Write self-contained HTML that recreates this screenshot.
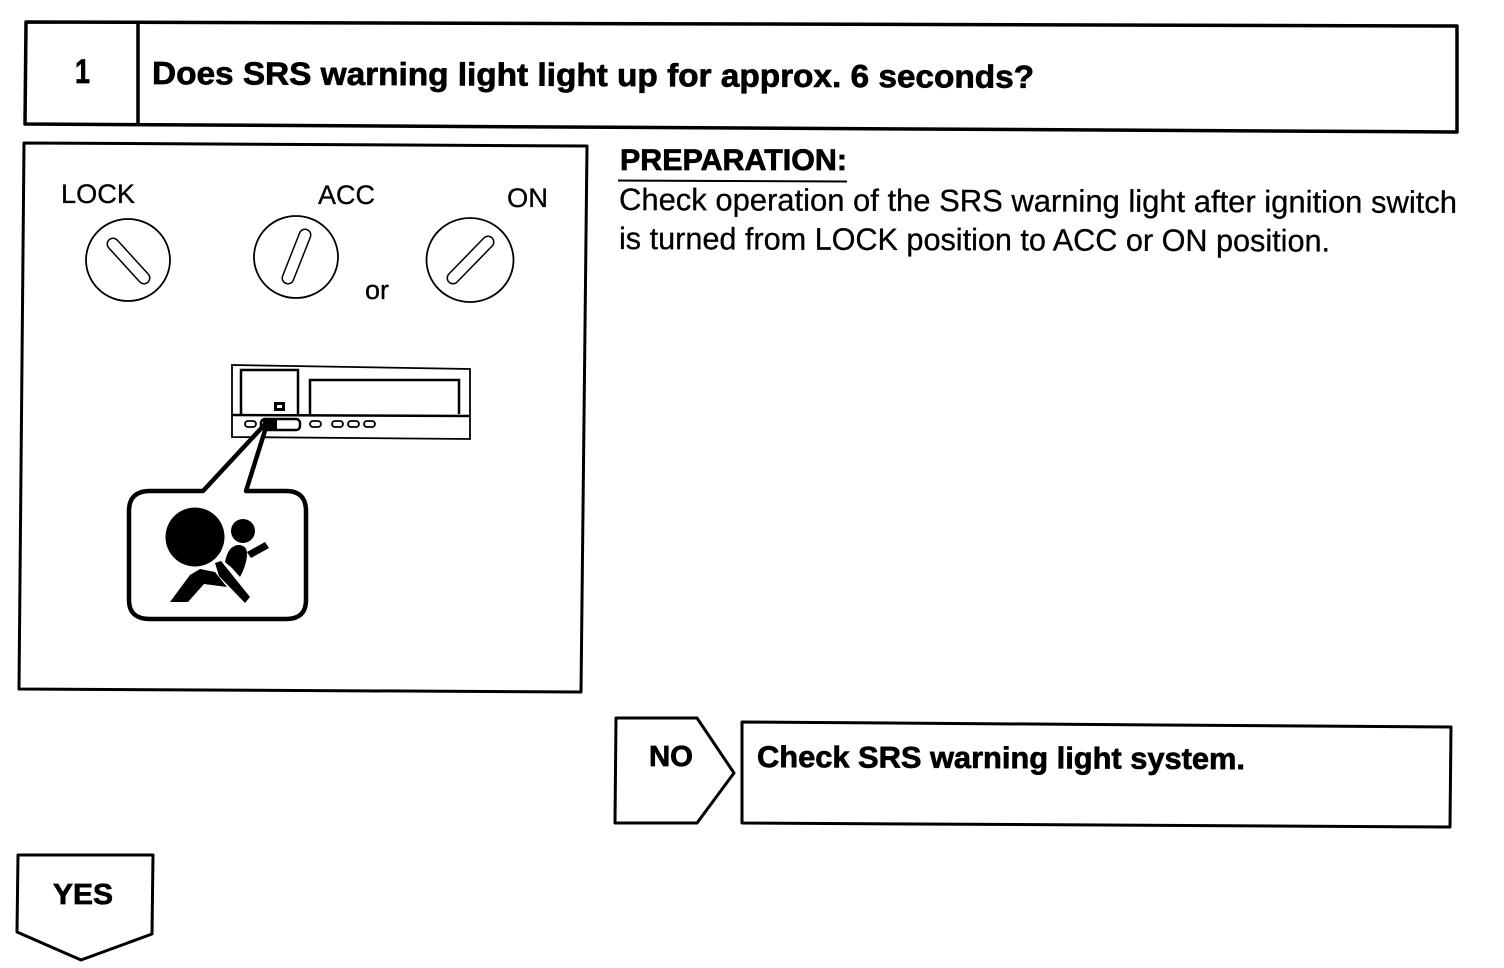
<!DOCTYPE html>
<html>
<head>
<meta charset="utf-8">
<style>
html,body{margin:0;padding:0;background:#fff;width:1504px;height:968px;overflow:hidden}
svg{display:block}
text{font-family:"Liberation Sans",sans-serif;fill:#000}
.b{font-weight:bold;stroke:#000;stroke-width:.7px}
.r{stroke:#000;stroke-width:.3px}
</style>
</head>
<body>
<svg width="1504" height="968" viewBox="0 0 1504 968" xmlns="http://www.w3.org/2000/svg">
<rect width="1504" height="968" fill="#fff"/>
<g fill="none" stroke="#000" stroke-linejoin="round">
  <!-- header -->
  <polygon points="26,22 1457,26 1457,132 25,124" stroke-width="3.5"/>
  <line x1="138" y1="22" x2="138" y2="124" stroke-width="3.5"/>
  <!-- panel -->
  <polygon points="24,143 587,146 581,692 19,689" stroke-width="3"/>
  <!-- knobs -->
  <ellipse cx="128" cy="260" rx="42" ry="41" stroke-width="1.8"/>
  <ellipse cx="296" cy="257" rx="42" ry="41" stroke-width="1.8"/>
  <ellipse cx="470" cy="260" rx="43.500" ry="42" stroke-width="1.8"/>
</g>
<g fill="none" stroke-linecap="round">
  <line x1="113" y1="244" x2="144" y2="278" stroke="#000" stroke-width="13"/>
  <line x1="113" y1="244" x2="144" y2="278" stroke="#fff" stroke-width="10"/>
  <line x1="305" y1="235" x2="288" y2="278" stroke="#000" stroke-width="13"/>
  <line x1="305" y1="235" x2="288" y2="278" stroke="#fff" stroke-width="10"/>
  <line x1="488" y1="242" x2="453" y2="278" stroke="#000" stroke-width="13"/>
  <line x1="488" y1="242" x2="453" y2="278" stroke="#fff" stroke-width="10"/>
</g>
<!-- cluster -->
<g fill="none" stroke="#000">
  <polygon points="232,365 470,369 470,439 232,437" stroke-width="1.800"/>
  <line x1="232" y1="415" x2="470" y2="416" stroke-width="2.500"/>
  <polyline points="241,414 241,370 298,370 298,414" stroke-width="2.500"/>
  <polyline points="310,414 310,380 459,380 459,414" stroke-width="2.500"/>
  <rect x="275.500" y="403.500" width="8" height="6" stroke-width="3"/>
  <rect x="245" y="421" width="11" height="6" rx="3" stroke-width="1.800"/>
  <rect x="261" y="419" width="39" height="11" rx="4" stroke-width="2.500"/>
  <rect x="310" y="421" width="11" height="6" rx="3" stroke-width="1.800"/>
  <rect x="332" y="421" width="11" height="6" rx="3" stroke-width="1.800"/>
  <rect x="348" y="421" width="11" height="6" rx="3" stroke-width="1.800"/>
  <rect x="364" y="421" width="11" height="6" rx="3" stroke-width="1.800"/>
  <!-- callout -->
  <path d="M203,491 L268,421 L246,491 L286,491 Q306,491 306,511 L306,600 Q306,619 286,619 L150,619 Q129,619 129,600 L129,511 Q129,491 150,491 Z" fill="#fff" stroke-width="4.500" stroke-linejoin="round"/>
</g>
<rect x="263" y="420" width="14" height="9" fill="#000"/>
<!-- airbag icon -->
<g fill="#000" stroke="none">
  <circle cx="195" cy="537" r="29.500"/>
  <circle cx="243" cy="531" r="12"/>
  <path d="M225,562 Q228,546 238,545 Q248,545 247,556 Q246,566 240,577 L232,568 Z"/>
  <polygon points="247,552 265,542 269,548 251,558"/>
  <polygon points="215,563 221,561 250,597 245,603 219,576"/>
  <polygon points="170,602 188,602 204,584 227,587 215,572 200,569 190,575"/>
</g>
<!-- NO / YES / result -->
<g fill="none" stroke="#000" stroke-linejoin="round">
  <polygon points="616,718 697,718 734,773 697,823 615,823" stroke-width="3"/>
  <polygon points="742,722 1451,727 1450,827 742,823" stroke-width="3"/>
  <polygon points="18,855 153,855 152,934 81,960 17,932" stroke-width="3"/>
</g>
<!-- text -->
<text class="b" x="75" y="83" font-size="34" textLength="15" lengthAdjust="spacingAndGlyphs">1</text>
<text class="b" x="152" y="84" font-size="32" textLength="882" lengthAdjust="spacingAndGlyphs" transform="rotate(.25 152 84)">Does SRS warning light light up for approx. 6 seconds?</text>
<text class="r" x="61" y="203" font-size="27" textLength="74" lengthAdjust="spacingAndGlyphs">LOCK</text>
<text class="r" x="318" y="204" font-size="27" textLength="57" lengthAdjust="spacingAndGlyphs">ACC</text>
<text class="r" x="507" y="207" font-size="27" textLength="41" lengthAdjust="spacingAndGlyphs">ON</text>
<text class="r" x="365" y="299" font-size="27" textLength="24" lengthAdjust="spacingAndGlyphs">or</text>
<text class="b" x="620" y="170" font-size="30" textLength="227" lengthAdjust="spacingAndGlyphs">PREPARATION:</text>
<line x1="618" y1="180.500" x2="847" y2="181.500" stroke="#000" stroke-width="2"/>
<text class="r" x="619" y="210" font-size="31" textLength="838" lengthAdjust="spacingAndGlyphs" transform="rotate(.2 619 210)">Check operation of the SRS warning light after ignition switch</text>
<text class="r" x="619" y="249" font-size="31" textLength="711" lengthAdjust="spacingAndGlyphs" transform="rotate(.2 619 249)">is turned from LOCK position to ACC or ON position.</text>
<text class="b" x="649" y="766" font-size="29" textLength="44" lengthAdjust="spacingAndGlyphs">NO</text>
<text class="b" x="757" y="767" font-size="30" textLength="488" lengthAdjust="spacingAndGlyphs" transform="rotate(.25 757 767)">Check SRS warning light system.</text>
<text class="b" x="53" y="904" font-size="29" textLength="60" lengthAdjust="spacingAndGlyphs">YES</text>
</svg>
</body>
</html>
